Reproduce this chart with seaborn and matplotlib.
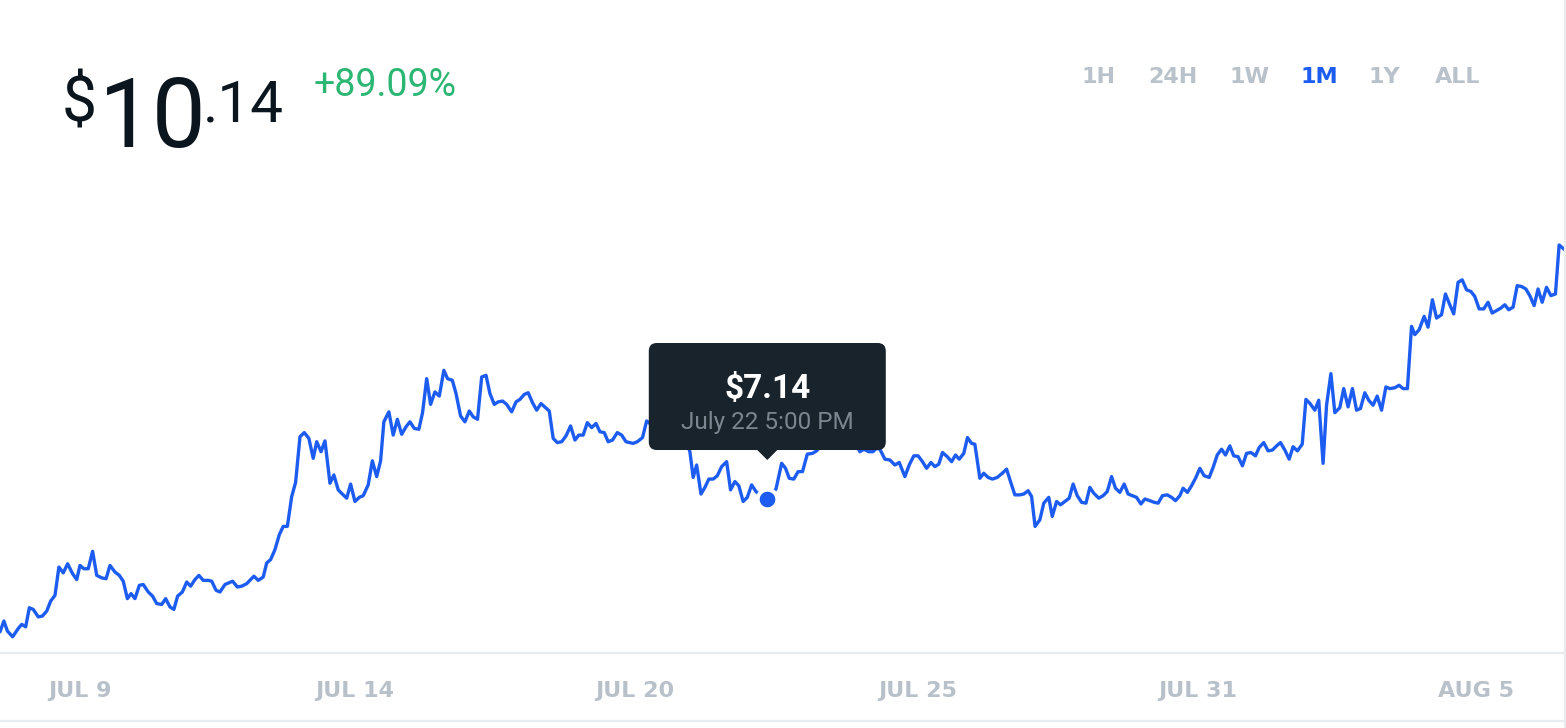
import matplotlib
matplotlib.use("Agg")
import matplotlib.pyplot as plt
import matplotlib.transforms as mtransforms
from matplotlib.lines import Line2D
from matplotlib.patches import FancyBboxPatch, Polygon
import pandas as pd
import seaborn as sns

# hours since Jul 8 00:00, price in USD
hours = [
    0.0, 1.8, 3.4, 5.8, 8.4, 10.0, 11.8, 13.5, 15.3, 17.6,
    19.5, 21.5, 23.3, 25.3, 27.1, 29.1, 31.1, 33.4, 35.3, 36.8,
    38.6, 40.6, 42.6, 44.5, 46.8, 48.8, 50.6, 52.9, 54.9, 56.7,
    58.6, 60.3, 62.1, 64.1, 65.9, 68.2, 70.2, 72.1, 74.4, 76.2,
    78.2, 80.0, 81.7, 83.9, 85.9, 87.7, 89.7, 91.5, 93.5, 95.8,
    97.4, 99.4, 101.2, 103.5, 107.0, 109.2, 111.2, 113.5, 116.8, 118.8,
    121.1, 122.7, 124.5, 126.5, 128.5, 130.3, 132.2, 134.2, 136.0, 138.0,
    140.0, 142.1, 144.1, 145.7, 147.7, 149.5, 151.8, 153.6, 155.6, 157.5,
    159.5, 161.3, 163.3, 165.3, 167.1, 169.4, 171.3, 173.3, 175.1, 176.6,
    178.9, 180.9, 182.8, 184.8, 186.8, 188.6, 190.6, 192.7, 194.4, 196.3,
    198.1, 200.1, 202.1, 204.2, 205.9, 208.1, 209.8, 211.9, 213.9, 215.9,
    217.7, 219.7, 221.6, 223.6, 225.4, 227.4, 229.2, 231.2, 233.1, 235.4,
    237.4, 239.2, 241.2, 243.0, 245.0, 246.9, 248.9, 251.0, 252.7, 254.5,
    256.4, 258.4, 260.4, 262.5, 264.5, 266.3, 268.3, 270.2, 272.2, 274.2,
    276.0, 278.0, 279.8, 281.8, 284.0, 286.0, 288.0, 289.6, 291.3, 293.2,
    295.6, 297.5, 299.0, 300.8, 302.7, 305.0, 306.8, 309.1, 311.0, 312.8,
    315.1, 317.4, 318.9, 320.5, 322.5, 324.3, 326.1, 328.1, 330.0, 332.0,
    334.3, 336.1, 338.1, 339.9, 341.9, 343.8, 345.8, 347.8, 349.6, 351.5,
    353.0, 355.0, 357.0, 359.6, 361.4, 363.1, 365.2, 367.2, 369.2, 371.4,
    373.8, 375.7, 377.7, 379.5, 381.8, 383.6, 385.5, 387.8, 389.6, 391.5,
    393.8, 395.6, 397.4, 399.7, 401.6, 403.2, 404.8, 407.1, 409.4, 411.7,
    413.7, 416.3, 418.3, 420.4, 422.4, 424.4, 426.3, 428.3, 430.1, 431.9,
    433.6, 435.8, 437.8, 439.6, 441.3, 443.4, 445.1, 447.0, 448.5, 450.8,
    452.6, 454.6, 456.6, 458.8, 461.1, 463.1, 464.9, 466.9, 469.2, 471.0,
    473.0, 474.6, 476.2, 478.4, 480.2, 482.5, 484.1, 486.1, 487.9, 489.9,
    491.9, 493.7, 495.6, 497.6, 499.6, 501.4, 503.2, 505.5, 507.5, 509.4,
    511.4, 513.2, 515.2, 517.2, 519.0, 521.0, 522.9, 524.9, 526.7, 529.0,
    531.0, 532.8, 534.8, 537.0, 539.0, 540.8, 542.8, 544.3, 546.3, 548.2,
    550.2, 552.0, 554.0, 556.3, 558.1, 560.0, 562.0, 563.8, 565.8, 567.6,
    569.6, 571.6, 573.5, 575.5, 577.6, 579.3, 581.4, 583.4, 585.4, 587.3,
    589.1, 591.1, 593.1, 594.9, 596.9, 599.1, 600.8, 602.7, 604.9, 606.7,
    608.7, 610.3, 612.3, 614.1, 616.4, 618.2, 620.2, 622.2, 624.1, 625.9,
    627.9, 629.7, 631.7, 633.6, 635.6, 637.6, 639.4, 641.7, 643.7, 645.5,
    647.5, 649.4, 650.9, 652.9, 655.2, 657.0, 659.0, 660.9, 663.2, 665.0,
    666.7, 668.8, 670.8, 672.7, 674.7, 676.7, 678.5, 680.5, 682.6, 684.6,
    686.5, 688.5, 690.5, 692.3, 694.1, 696.1, 698.0, 700.0, 702.0, 703.8,
    705.8, 707.6, 709.5, 711.5, 713.5, 715.6, 717.3, 720.0,
]
prices = [
    5.54, 5.67, 5.55, 5.48, 5.58, 5.63, 5.60, 5.83, 5.81, 5.72,
    5.73, 5.79, 5.91, 5.98, 6.32, 6.25, 6.36, 6.24, 6.17, 6.34,
    6.30, 6.30, 6.51, 6.22, 6.19, 6.18, 6.34, 6.26, 6.22, 6.15,
    5.94, 6.00, 5.94, 6.10, 6.11, 6.02, 5.97, 5.88, 5.87, 5.94,
    5.84, 5.81, 5.97, 6.02, 6.14, 6.09, 6.17, 6.22, 6.16, 6.16,
    6.15, 6.04, 6.02, 6.11, 6.15, 6.08, 6.09, 6.12, 6.21, 6.16,
    6.20, 6.37, 6.41, 6.53, 6.71, 6.81, 6.81, 7.17, 7.34, 7.89,
    7.94, 7.87, 7.63, 7.83, 7.71, 7.84, 7.33, 7.43, 7.25, 7.20,
    7.15, 7.32, 7.11, 7.16, 7.18, 7.31, 7.60, 7.41, 7.60, 8.07,
    8.19, 7.91, 8.10, 7.92, 8.01, 8.07, 7.99, 7.98, 8.18, 8.59,
    8.28, 8.43, 8.38, 8.69, 8.59, 8.57, 8.41, 8.14, 8.07, 8.20,
    8.13, 8.10, 8.61, 8.63, 8.41, 8.28, 8.31, 8.32, 8.28, 8.19,
    8.31, 8.34, 8.40, 8.42, 8.30, 8.21, 8.29, 8.24, 8.20, 7.87,
    7.82, 7.83, 7.90, 8.02, 7.85, 7.91, 7.91, 8.06, 8.00, 8.05,
    7.95, 7.94, 7.83, 7.85, 7.94, 7.91, 7.83, 7.82, 7.81, 7.83,
    7.88, 8.08, 8.05, 7.99, 8.06, 7.94, 8.00, 7.89, 7.95, 7.84,
    7.88, 7.71, 7.40, 7.55, 7.20, 7.28, 7.38, 7.38, 7.42, 7.53,
    7.59, 7.25, 7.35, 7.30, 7.11, 7.16, 7.31, 7.23, 7.19, 7.16,
    7.14, 7.20, 7.26, 7.57, 7.51, 7.39, 7.38, 7.47, 7.47, 7.68,
    7.69, 7.72, 7.78, 7.85, 7.78, 7.87, 7.81, 7.90, 7.84, 7.89,
    7.80, 7.71, 7.74, 7.71, 7.71, 7.75, 7.74, 7.62, 7.61, 7.55,
    7.58, 7.41, 7.55, 7.66, 7.66, 7.59, 7.51, 7.58, 7.53, 7.56,
    7.70, 7.65, 7.59, 7.67, 7.62, 7.69, 7.88, 7.81, 7.80, 7.39,
    7.45, 7.40, 7.38, 7.40, 7.45, 7.50, 7.35, 7.19, 7.19, 7.20,
    7.24, 7.17, 6.81, 6.89, 7.09, 7.16, 6.93, 7.11, 7.07, 7.11,
    7.15, 7.32, 7.18, 7.10, 7.09, 7.28, 7.21, 7.15, 7.18, 7.23,
    7.41, 7.27, 7.22, 7.32, 7.20, 7.18, 7.16, 7.08, 7.14, 7.12,
    7.10, 7.09, 7.18, 7.19, 7.16, 7.12, 7.18, 7.27, 7.22, 7.30,
    7.40, 7.51, 7.42, 7.40, 7.52, 7.67, 7.74, 7.67, 7.78, 7.66,
    7.65, 7.54, 7.69, 7.70, 7.66, 7.76, 7.82, 7.72, 7.73, 7.78,
    7.82, 7.73, 7.62, 7.77, 7.72, 7.80, 8.34, 8.29, 8.21, 8.33,
    7.57, 8.27, 8.65, 8.18, 8.24, 8.47, 8.25, 8.47, 8.21, 8.23,
    8.42, 8.33, 8.27, 8.38, 8.21, 8.49, 8.47, 8.48, 8.51, 8.47,
    8.47, 9.22, 9.12, 9.18, 9.34, 9.21, 9.54, 9.32, 9.36, 9.61,
    9.50, 9.37, 9.75, 9.78, 9.66, 9.64, 9.58, 9.43, 9.43, 9.51,
    9.38, 9.41, 9.44, 9.48, 9.42, 9.45, 9.71, 9.70, 9.67, 9.59,
    9.47, 9.67, 9.51, 9.69, 9.59, 9.61, 10.20, 10.14,
]

tick_hours = [37, 163, 292, 422, 551, 679]
tick_labels = ["JUL 9", "JUL 14", "JUL 20", "JUL 25", "JUL 31", "AUG 5"]
ranges = ["1H", "24H", "1W", "1M", "1Y", "ALL"]
range_x = [1098, 1173, 1250, 1319, 1384, 1458]  # pixel centres
active_range = "1M"
hover_hour = 353.0
change_text = "+89.09%"
start = pd.Timestamp("2018-07-08 00:00")

BLUE = "#1d5cf0"
GRAY = "#b9c2cb"
BORDER = "#e8ecef"
INK = "#0b151e"

assert len(hours) == len(prices)
df = pd.DataFrame({"hours": hours, "price": prices})
hover_price = prices[hours.index(hover_hour)]

sns.set_theme(style="white")
plt.rcParams["font.family"] = ["Roboto", "DejaVu Sans"]

W, H = 1566, 728
fig = plt.figure(figsize=(W / 100, H / 100), dpi=100)
ax = fig.add_axes([0, 1 - 652 / H, 1565 / W, (652 - 200) / H])

sns.lineplot(data=df, x="hours", y="price", color=BLUE, linewidth=2.4,
             estimator=None, sort=False, ax=ax, zorder=3)
sns.scatterplot(x=[hover_hour], y=[hover_price], s=200, color=BLUE,
                edgecolor="white", linewidth=2.9, ax=ax, zorder=4, clip_on=False)

ax.set_xlim(0, 720)
ax.set_ylim(5.297, 10.742)
ax.set_xlabel("")
ax.set_ylabel("")
ax.set_yticks([])
ax.set_xticks(tick_hours, tick_labels)
ax.tick_params(axis="x", length=0, pad=21, labelsize=16, labelcolor="#b8c1ca")
for lbl in ax.get_xticklabels():
    lbl.set_fontweight("bold")
    lbl.set_family("DejaVu Sans")
sns.despine(ax=ax, left=True, bottom=True)

# frame lines
fig.add_artist(Line2D([0, 1563 / W], [1 - 653 / H] * 2, color=BORDER, lw=1.6))
fig.add_artist(Line2D([0, 1563 / W], [1 - 721 / H] * 2, color=BORDER, lw=1.6))
fig.add_artist(Line2D([1564.5 / W] * 2, [0, 1], color=BORDER, lw=1.6))

# tooltip around the hovered point
fig.canvas.draw()
px, py = ax.transData.transform((hover_hour, hover_price))
ident = mtransforms.IdentityTransform()
box = FancyBboxPatch((px - 118.5, py + 49), 237, 107,
                     boxstyle="round,pad=0,rounding_size=8",
                     facecolor="#18232c", edgecolor="none",
                     transform=ident, clip_on=False, zorder=6)
ax.add_patch(box)
tip = Polygon([(px - 11, py + 50), (px + 11, py + 50), (px, py + 39)],
              closed=True, facecolor="#18232c", edgecolor="none",
              transform=ident, clip_on=False, zorder=6)
ax.add_patch(tip)
hover_time = start + pd.Timedelta(hours=hover_hour)
date_str = f"{hover_time:%B} {hover_time.day} {hover_time.hour % 12 or 12}:{hover_time:%M %p}"
ax.annotate(f"${hover_price:.2f}", xy=(hover_hour, hover_price), xytext=(0, 110),
            textcoords="offset pixels", ha="center", va="center",
            fontsize=24, fontweight="bold", color="white", zorder=7)
ax.annotate(date_str, xy=(hover_hour, hover_price), xytext=(0, 77),
            textcoords="offset pixels", ha="center", va="center",
            fontsize=17.5, color="#7b8690", zorder=7)

# header price
last = f"{prices[-1]:.2f}"
whole, cents = last.split(".")
fig.text(62 / W, 1 - 122 / H, "$", fontsize=45, color=INK)
fig.text(99 / W, 1 - 147 / H, whole, fontsize=69, color=INK)
fig.text(203 / W, 1 - 122 / H, "." + cents, fontsize=42, color=INK)
fig.text(314 / W, 1 - 96 / H, change_text, fontsize=27, color="#2bb673")

for name, cx in zip(ranges, range_x):
    fig.text(cx / W, 1 - 83 / H, name, ha="center", fontsize=16, fontweight="bold",
             family="DejaVu Sans", color=BLUE if name == active_range else GRAY)

fig.savefig("out.png", dpi=100, facecolor="white")
